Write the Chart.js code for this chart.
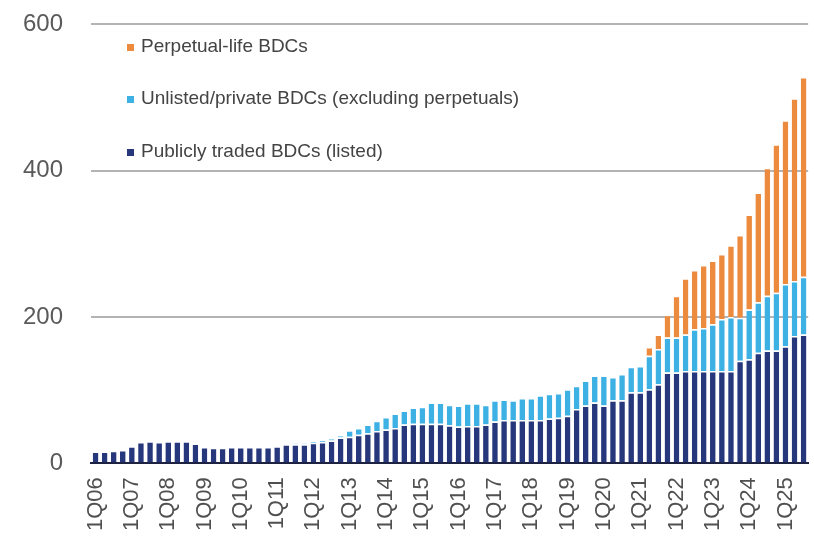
<!DOCTYPE html>
<html>
<head>
<meta charset="utf-8">
<script src="https://cdn.jsdelivr.net/npm/chart.js@4/dist/chart.umd.min.js"></script>
<style>
    html, body { margin: 0; padding: 0; background: #fff; overflow: hidden; }
    #frame { position: relative; width: 814px; height: 540px; overflow: hidden; }
    /* chart.js reserves room for the edge labels; shift the box so the plot fills the frame */
    #wrap { position: absolute; left: 0; top: -18px; width: 836px; height: 558px; }
</style>
</head>
<body>
<div id="frame"><div id="wrap"><canvas id="my-chart"></canvas></div></div>
<script>
const quarters = [
    '1Q06','2Q06','3Q06','4Q06','1Q07','2Q07','3Q07','4Q07','1Q08','2Q08','3Q08','4Q08',
    '1Q09','2Q09','3Q09','4Q09','1Q10','2Q10','3Q10','4Q10','1Q11','2Q11','3Q11','4Q11',
    '1Q12','2Q12','3Q12','4Q12','1Q13','2Q13','3Q13','4Q13','1Q14','2Q14','3Q14','4Q14',
    '1Q15','2Q15','3Q15','4Q15','1Q16','2Q16','3Q16','4Q16','1Q17','2Q17','3Q17','4Q17',
    '1Q18','2Q18','3Q18','4Q18','1Q19','2Q19','3Q19','4Q19','1Q20','2Q20','3Q20','4Q20',
    '1Q21','2Q21','3Q21','4Q21','1Q22','2Q22','3Q22','4Q22','1Q23','2Q23','3Q23','4Q23',
    '1Q24','2Q24','3Q24','4Q24','1Q25','2Q25','3Q25'
];

const listedBDCs = [
    16,16,17,18,23,29,30,29,30,30,30,27,
    22,21,21,22,22,22,22,22,23,26,26,26,
    28,29,31,35,36,39,41,44,46,48,53,54,
    54,54,54,52,50,51,51,53,57,59,59,59,
    59,59,61,62,65,74,79,83,79,86,86,97,
    97,101,108,124,124,126,126,126,126,126,126,140,
    142,151,154,154,160,174,176
];

const unlistedBDCs = [
    0,0,0,0,0,0,0,0,0,0,0,0,
    0,0,0,0,0,0,0,0,0,0,1,1,
    2,2,3,3,9,9,12,14,17,20,19,22,
    23,29,29,28,29,31,31,27,29,28,27,30,
    30,34,34,34,36,32,34,37,41,32,36,35,
    36,46,48,48,48,50,57,59,64,71,74,59,
    68,69,75,79,85,75,79
];

const perpetualBDCs = [
    0,0,0,0,0,0,0,0,0,0,0,0,
    0,0,0,0,0,0,0,0,0,0,0,0,
    0,0,0,0,0,0,0,0,0,0,0,0,
    0,0,0,0,0,0,0,0,0,0,0,0,
    0,0,0,0,0,0,0,0,0,0,0,0,
    0,12,20,31,57,77,81,86,87,89,98,113,
    130,150,175,203,224,250,273
];

const yTicks = [0, 200, 400, 600];

// legend drawn inside the plot, top-left, top series first
const insideLegend = {
    id: 'insideLegend',
    afterDraw(chart) {
        const ctx = chart.ctx;
        const rows = [65, 117, 170];   // canvas is shifted up 18px
        const items = chart.data.datasets.slice().reverse();
        ctx.save();
        ctx.font = '19px "Liberation Sans", Arial, sans-serif';
        ctx.textBaseline = 'middle';
        items.forEach((ds, i) => {
            ctx.fillStyle = ds.backgroundColor;
            ctx.fillRect(127, rows[i] - 3, 7, 7);
            ctx.fillStyle = '#444444';
            ctx.fillText(ds.label, 141, rows[i]);
        });
        ctx.restore();
    }
};

document.addEventListener('DOMContentLoaded', () => {

    const barStyle = {
        borderColor: '#ffffff',
        borderWidth: { top: 1.5, left: 0, right: 0, bottom: 0 },
        borderSkipped: false,
        barPercentage: 0.62,
        categoryPercentage: 1.0
    };

    new Chart(document.querySelector('#my-chart'), {
        type: 'bar',
        data: {
            labels: quarters,
            datasets: [
                Object.assign({ label: 'Publicly traded BDCs (listed)', data: listedBDCs, backgroundColor: '#26377c' }, barStyle),
                Object.assign({ label: 'Unlisted/private BDCs (excluding perpetuals)', data: unlistedBDCs, backgroundColor: '#3eb1e4' }, barStyle),
                Object.assign({ label: 'Perpetual-life BDCs', data: perpetualBDCs, backgroundColor: '#ec8a3e' }, barStyle)
            ]
        },
        options: {
            responsive: true,
            maintainAspectRatio: false,
            animation: false,
            layout: { padding: { left: -5, right: 0, top: 0, bottom: 3 } },
            plugins: {
                legend: { display: false },
                tooltip: { enabled: false }
            },
            scales: {
                x: {
                    stacked: true,
                    grid: { display: false },
                    border: { display: true, color: '#1d2340', width: 2 },
                    ticks: {
                        autoSkip: false,
                        maxRotation: 90,
                        minRotation: 90,
                        padding: 6,
                        color: '#505050',
                        font: { size: 22, family: '"Liberation Sans", Arial, sans-serif' },
                        callback: function(value, index) {
                            const q = quarters[index];
                            return q.startsWith('1Q') ? q : '';
                        }
                    }
                },
                y: {
                    stacked: true,
                    min: 0,
                    max: 600,
                    afterBuildTicks: (axis) => {
                        axis.ticks = yTicks.map(v => ({ value: v }));
                    },
                    border: { display: false },
                    grid: {
                        drawTicks: false,
                        color: '#b4b4b4',
                        lineWidth: 2
                    },
                    ticks: {
                        padding: 28,
                        color: '#5a5a5a',
                        font: { size: 24, family: '"Liberation Sans", Arial, sans-serif' }
                    }
                }
            }
        },
        plugins: [insideLegend]
    });
});
</script>
</body>
</html>
